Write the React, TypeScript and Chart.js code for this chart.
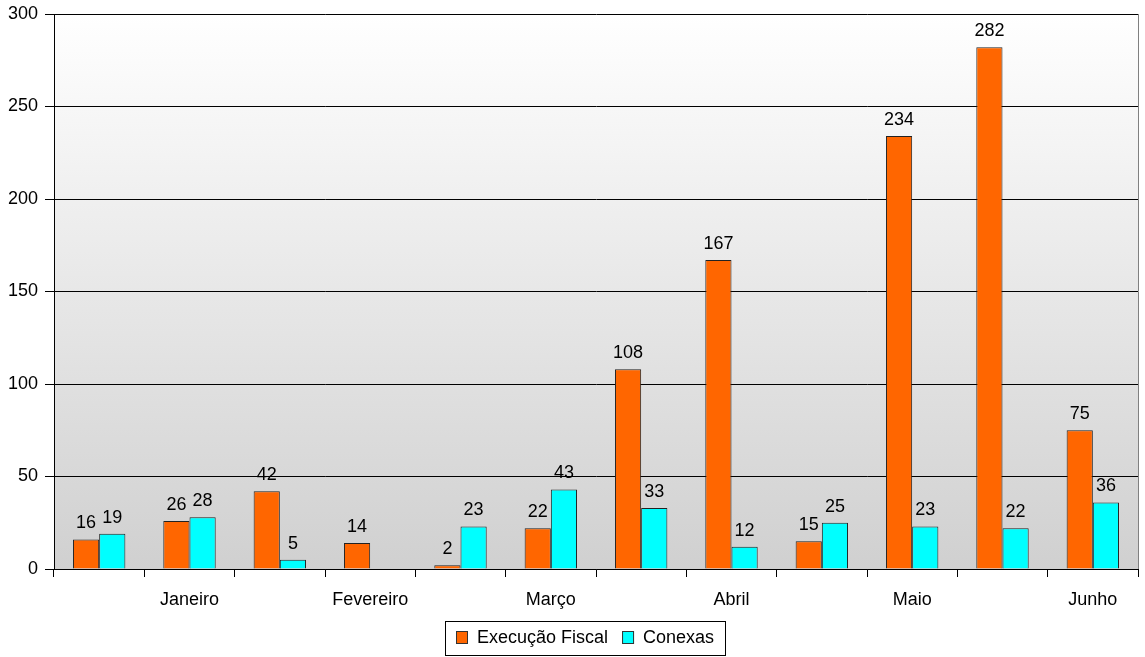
import { useEffect, useRef } from 'react';
import { Chart, registerables } from 'chart.js';

Chart.register(...registerables);

// Month labels sit under every second group of bars
const categories = ['', 'Janeiro', '', 'Fevereiro', '', 'Março', '', 'Abril', '', 'Maio', '', 'Junho'];
const execucaoFiscal = [16, 26, 42, 14, 2, 22, 108, 167, 15, 234, 282, 75];
const conexas: (number | null)[] = [19, 28, 5, null, 23, 43, 33, 12, 25, 23, 22, 36];
const seriesNames = ['Execução Fiscal', 'Conexas'];
const seriesColors = ['#FF6600', '#00FFFF'];
const yMin = 0;
const yMax = 300;
const yStep = 50;

const FONT = '"Liberation Sans", Arial, sans-serif';
const FONT_SIZE = 18;

// Grey vertical gradient behind the plot plus the right frame edge
const plotBackground = {
  id: 'plotBackground',
  beforeDraw(chart: Chart) {
    const { ctx, chartArea } = chart;
    const g = ctx.createLinearGradient(0, chartArea.top, 0, chartArea.bottom);
    g.addColorStop(0, '#ffffff');
    g.addColorStop(1, '#d0d0d0');
    ctx.save();
    ctx.fillStyle = g;
    ctx.fillRect(chartArea.left, chartArea.top, chartArea.right - chartArea.left, chartArea.bottom - chartArea.top);
    ctx.restore();
  },
  afterDraw(chart: Chart) {
    const { ctx, chartArea } = chart;
    ctx.save();
    ctx.strokeStyle = '#808080';
    ctx.lineWidth = 1;
    ctx.beginPath();
    ctx.moveTo(Math.round(chartArea.right) + 0.5, chartArea.top);
    ctx.lineTo(Math.round(chartArea.right) + 0.5, chartArea.bottom);
    ctx.stroke();
    ctx.restore();
  },
};

// Value printed above each bar
const valueLabels = {
  id: 'valueLabels',
  afterDatasetsDraw(chart: Chart) {
    const { ctx } = chart;
    ctx.save();
    ctx.font = `${FONT_SIZE}px ${FONT}`;
    ctx.fillStyle = '#000';
    ctx.textAlign = 'center';
    ctx.textBaseline = 'alphabetic';
    chart.data.datasets.forEach((ds, di) => {
      const meta = chart.getDatasetMeta(di);
      meta.data.forEach((el: any, i) => {
        const v = ds.data[i] as number | null;
        if (v === null || v === undefined) return;
        ctx.fillText(String(v), el.x, el.y - 11);
      });
    });
    ctx.restore();
  },
};

// Boxed legend below the axis
const boxedLegend = {
  id: 'boxedLegend',
  afterDraw(chart: Chart) {
    const { ctx } = chart;
    ctx.save();
    ctx.font = `${FONT_SIZE}px ${FONT}`;
    const pad = 11;
    const sw = 12;
    const sh = 13;
    const gap = 9;
    const itemGap = 14;
    const widths = seriesNames.map((n) => ctx.measureText(n).width);
    const total = pad * 2 + widths.reduce((a, w) => a + sw + gap + w, 0) + itemGap * (seriesNames.length - 1);
    const cx = 585;
    const left = Math.round(cx - total / 2);
    const top = 621;
    const h = 35;
    ctx.fillStyle = '#fff';
    ctx.fillRect(left, top, total, h);
    ctx.strokeStyle = '#000';
    ctx.lineWidth = 1;
    ctx.strokeRect(left + 0.5, top + 0.5, Math.round(total), h - 1);
    let x = left + pad;
    const cy = top + h / 2;
    seriesNames.forEach((n, i) => {
      ctx.fillStyle = seriesColors[i];
      ctx.fillRect(x, Math.round(cy - sh / 2) - 1, sw, sh);
      ctx.strokeStyle = '#333';
      ctx.strokeRect(x + 0.5, Math.round(cy - sh / 2) - 0.5, sw - 1, sh - 1);
      x += sw + gap;
      ctx.fillStyle = '#000';
      ctx.textBaseline = 'middle';
      ctx.textAlign = 'left';
      ctx.fillText(n, x, cy);
      x += widths[i] + itemGap;
    });
    ctx.restore();
  },
};

export default function App() {
  const canvasRef = useRef<HTMLCanvasElement | null>(null);

  useEffect(() => {
    if (!canvasRef.current) return;
    const chart = new Chart(canvasRef.current, {
      type: 'bar',
      data: {
        labels: categories,
        datasets: [
          {
            label: seriesNames[0],
            data: execucaoFiscal,
            backgroundColor: seriesColors[0],
            borderColor: '#222222',
            borderWidth: 1,
            categoryPercentage: 0.58,
            barPercentage: 1,
          },
          {
            label: seriesNames[1],
            data: conexas,
            backgroundColor: seriesColors[1],
            borderColor: '#222222',
            borderWidth: 1,
            categoryPercentage: 0.58,
            barPercentage: 1,
          },
        ],
      },
      options: {
        animation: false,
        responsive: false,
        maintainAspectRatio: false,
        layout: { padding: { top: 14, right: 7, left: 0, bottom: 0 } },
        plugins: {
          legend: { display: false },
          tooltip: { enabled: false },
          title: { display: false },
        },
        scales: {
          x: {
            afterFit(scale: any) {
              scale.height = 88;
            },
            grid: {
              offset: true,
              drawOnChartArea: false,
              drawTicks: true,
              tickLength: 8,
              color: '#000',
            },
            border: { display: true, color: '#000', width: 1 },
            ticks: {
              autoSkip: false,
              maxRotation: 0,
              padding: 12,
              color: '#000',
              font: { family: FONT, size: FONT_SIZE },
            },
          },
          y: {
            min: yMin,
            max: yMax,
            afterFit(scale: any) {
              scale.width = 54;
              scale.paddingTop = 0;
              scale.paddingBottom = 0;
            },
            grid: {
              color: '#000',
              lineWidth: 1,
              tickLength: 9,
              drawTicks: true,
            },
            border: { display: true, color: '#000', width: 1 },
            ticks: {
              stepSize: yStep,
              padding: 7,
              color: '#000',
              font: { family: FONT, size: FONT_SIZE },
            },
          },
        },
      },
      plugins: [plotBackground, valueLabels, boxedLegend],
    });
    return () => chart.destroy();
  }, []);

  return (
    <div style={{ position: 'fixed', left: 0, top: 0, width: 1145, height: 657, background: '#fff' }}>
      <canvas ref={canvasRef} width={1145} height={657} style={{ display: 'block' }} />
    </div>
  );
}
